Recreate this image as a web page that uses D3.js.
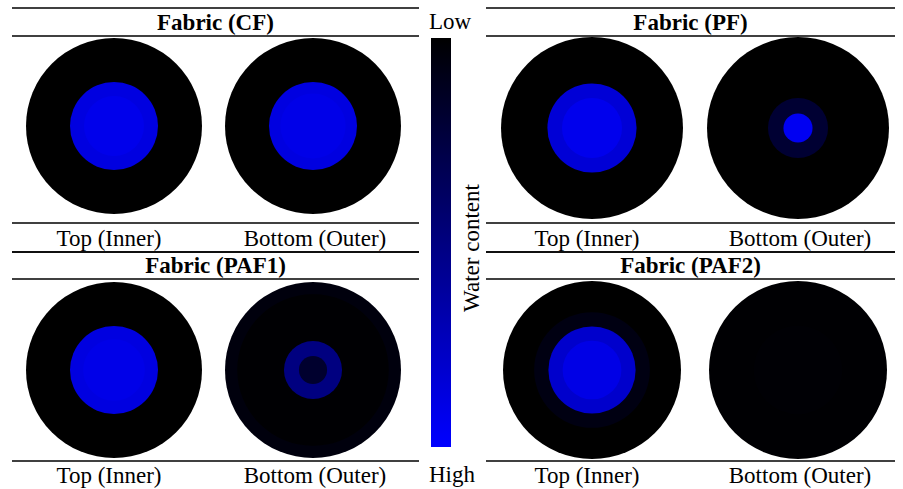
<!DOCTYPE html>
<html>
<head>
<meta charset="utf-8">
<script src="https://cdn.jsdelivr.net/npm/d3@7"></script>
<style>
  html, body { margin: 0; padding: 0; background: #ffffff; }
  svg { display: block; }
  text { font-family: "Liberation Serif", "Times New Roman", serif; fill: #000; }
</style>
</head>
<body>
<svg id="chart" width="903" height="489"></svg>
<script>
// Fabric specimens and the two faces imaged for each
const fabrics = ["Fabric (CF)", "Fabric (PF)", "Fabric (PAF1)", "Fabric (PAF2)"];
const faces = ["Top (Inner)", "Bottom (Outer)"];
const scaleEnds = ["Low", "High"];
const scaleTitle = "Water content";

// Wet zones of each face: [zone radius as share of specimen radius, relative water content 0..1]
const cfTop     = [[1.00, 0.00], [0.50, 0.88], [0.34, 0.92]];
const cfBottom  = [[1.00, 0.00], [0.50, 0.88], [0.37, 0.91]];
const pfTop     = [[1.00, 0.00], [0.49, 0.84], [0.33, 0.93]];
const pfBottom  = [[1.00, 0.00], [0.33, 0.20], [0.16, 0.95]];
const paf1Top   = [[1.00, 0.00], [0.50, 0.88], [0.35, 0.91]];
const paf1Bottom = [[1.00, 0.05], [0.86, 0.01], [0.33, 0.50], [0.16, 0.18]];
const paf2Top   = [[1.00, 0.00], [0.65, 0.07], [0.49, 0.80], [0.33, 0.90]];
const paf2Bottom = [[1.00, 0.01], [0.50, 0.02]];

const zones = [[cfTop, cfBottom], [pfTop, pfBottom], [paf1Top, paf1Bottom], [paf2Top, paf2Bottom]];

const svg = d3.select("#chart");
const fs = 23;

// Water content colour ramp: dry (black) to wet (blue)
const color = d3.scaleLinear().domain([0, 1]).range(["#000000", "#0000ff"]).interpolate(d3.interpolateRgb);

// Panel frames (2 x 2 grid around the colour bar)
const cols = [{x0: 12, x1: 419, c0: 114, c1: 313, r: 88}, {x0: 486, x1: 895, c0: 592, c1: 798, r: 91}];
const rows = [
  {lineTop: 8, titleY: 30, lineTitle: 36, cy: 126, lineBottom: 223, labelY: 246, lineLabel: 252},
  {lineTop: 252, titleY: 273, lineTitle: 279, cy: 370, lineBottom: 461, labelY: 483, lineLabel: null}
];

fabrics.forEach((name, i) => {
  const col = cols[i % 2];
  const row = rows[Math.floor(i / 2)];
  const rad = i === 3 ? 89 : (i === 2 ? 88 : col.r);
  const cy = i === 1 ? 128 : row.cy;
  const g = svg.append("g").attr("class", "panel");

  const x = d3.scalePoint().domain(faces).range([col.c0, col.c1]);
  const r = d3.scaleLinear().domain([0, 1]).range([0, rad]);

  // horizontal rules
  [row.lineTop, row.lineTitle, row.lineBottom, row.lineLabel].filter(v => v != null).forEach(yv => {
    g.append("line").attr("x1", col.x0).attr("x2", col.x1).attr("y1", yv).attr("y2", yv)
      .attr("stroke", "#000").attr("stroke-width", 1.3);
  });

  g.append("text").attr("x", (col.x0 + col.x1) / 2).attr("y", row.titleY)
    .attr("text-anchor", "middle").attr("font-size", fs).attr("font-weight", "bold").text(name);

  faces.forEach((face, j) => {
    const fg = g.append("g").attr("transform", `translate(${x(face)},${cy})`);
    fg.selectAll("circle").data(zones[i][j]).join("circle")
      .attr("r", d => r(d[0]))
      .attr("fill", d => color(d[1]));
    g.append("text").attr("x", x(face) + (j === 0 ? -5 : 2)).attr("y", row.labelY)
      .attr("text-anchor", "middle").attr("font-size", fs).text(face);
  });
});

// Colour bar
const barX = 431, barW = 20, barY0 = 38, barY1 = 447;
const defs = svg.append("defs");
const grad = defs.append("linearGradient").attr("id", "wc").attr("x1", 0).attr("x2", 0).attr("y1", 0).attr("y2", 1);
const stops = d3.range(0, 1.0001, 0.1);
grad.selectAll("stop").data(stops).join("stop")
  .attr("offset", d => d).attr("stop-color", d => color(d));

const yBar = d3.scaleLinear().domain([0, 1]).range([barY0, barY1]);
svg.append("rect").attr("x", barX).attr("y", yBar(0)).attr("width", barW).attr("height", yBar(1) - yBar(0))
  .attr("fill", "url(#wc)");

svg.append("text").attr("x", 429).attr("y", 29).attr("font-size", fs).text(scaleEnds[0]);
svg.append("text").attr("x", 429).attr("y", 482).attr("font-size", fs).text(scaleEnds[1]);
svg.append("text").attr("transform", "translate(479,248) rotate(-90)")
  .attr("text-anchor", "middle").attr("font-size", fs).text(scaleTitle);
</script>
</body>
</html>
